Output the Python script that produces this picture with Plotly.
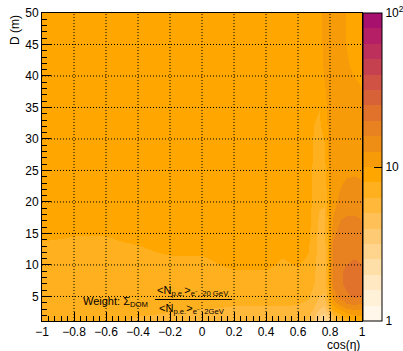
import numpy as np
import plotly.graph_objects as go

# ---------------- data ----------------
cos_eta = [-1.0, -0.8, -0.6, -0.4, -0.2, 0.0, 0.2, 0.4, 0.5, 0.6,
           0.66, 0.7, 0.73, 0.76, 0.79, 0.82, 0.86, 0.9, 0.95, 1.0]
distance_m = [1, 2, 3, 4, 5, 7, 9, 11, 13, 15, 17, 20, 25, 30, 35, 40, 45, 50]

# weight ratio, one list per cos(eta) column, values from D=1 up to D=50
weight_columns = [
    [7.0, 7.1, 7.2, 7.2, 7.2, 7.2, 7.3, 7.5, 7.7, 8.3, 8.8, 9.0, 9.0, 9.0, 9.0, 9.0, 9.0, 9.0],   # -1.0
    [7.0, 7.1, 7.2, 7.2, 7.2, 7.2, 7.3, 7.5, 7.7, 8.0, 8.6, 9.0, 9.0, 9.0, 9.0, 9.0, 9.0, 9.0],   # -0.8
    [6.9, 7.0, 7.2, 7.2, 7.2, 7.2, 7.3, 7.5, 7.7, 8.0, 8.6, 9.0, 9.0, 9.0, 9.0, 9.0, 9.0, 9.0],   # -0.6
    [5.8, 6.4, 6.9, 7.1, 7.2, 7.2, 7.3, 7.6, 7.9, 8.4, 8.8, 9.0, 9.0, 9.0, 9.0, 9.0, 9.0, 9.0],   # -0.4
    [5.6, 6.1, 6.6, 6.9, 7.1, 7.2, 7.4, 7.8, 8.3, 8.7, 8.9, 9.0, 9.0, 9.0, 9.0, 9.0, 9.0, 9.0],   # -0.2
    [5.5, 6.0, 6.3, 6.6, 6.9, 7.2, 7.5, 7.8, 8.3, 8.7, 8.9, 9.0, 9.0, 9.0, 9.0, 9.0, 9.0, 9.0],   # 0.0
    [5.5, 5.9, 6.2, 6.4, 6.8, 7.4, 7.9, 8.4, 8.8, 9.0, 9.0, 9.0, 9.0, 9.0, 9.0, 9.0, 9.0, 9.0],   # 0.2
    [5.5, 5.9, 6.2, 6.4, 6.8, 7.4, 7.9, 8.4, 8.8, 9.0, 9.0, 9.0, 9.0, 9.0, 9.0, 9.0, 9.0, 9.0],   # 0.4
    [5.5, 5.9, 6.2, 6.4, 6.8, 7.3, 7.6, 7.9, 8.5, 8.9, 9.0, 9.0, 9.0, 9.0, 9.0, 9.0, 9.0, 9.0],   # 0.5
    [5.4, 5.8, 6.1, 6.4, 6.8, 7.4, 7.8, 8.2, 8.6, 8.9, 9.0, 9.0, 9.0, 9.0, 9.0, 9.0, 9.0, 9.0],   # 0.6
    [4.8, 5.3, 5.8, 6.1, 6.5, 7.0, 7.4, 7.8, 8.1, 8.4, 8.7, 8.9, 9.0, 9.0, 9.0, 9.0, 9.0, 9.0],   # 0.66
    [3.8, 4.2, 4.8, 5.3, 5.8, 6.3, 6.5, 6.7, 6.8, 6.9, 7.0, 7.2, 7.4, 7.7, 8.2, 9.0, 9.0, 9.0],   # 0.7
    [2.8, 3.3, 4.0, 4.6, 5.0, 5.4, 5.6, 5.7, 5.8, 5.9, 6.1, 6.5, 7.0, 7.5, 8.0, 8.8, 9.2, 9.4],   # 0.73
    [2.3, 2.9, 3.7, 4.4, 4.9, 5.3, 5.5, 5.6, 5.7, 5.8, 6.0, 6.4, 7.2, 8.0, 9.0, 10.2, 10.6, 10.8],  # 0.76
    [2.6, 3.6, 5.0, 6.2, 7.2, 8.0, 8.4, 8.5, 8.5, 8.5, 8.6, 8.9, 9.8, 10.4, 10.8, 11.0, 11.0, 11.0],  # 0.79
    [4.5, 6.0, 8.5, 11.0, 14.0, 17.0, 18.0, 18.0, 17.0, 15.0, 13.0, 11.5, 10.8, 10.8, 11.0, 11.0, 11.0, 11.0],  # 0.82
    [5.5, 7.5, 10.5, 14.0, 17.5, 19.0, 19.5, 19.0, 18.5, 17.5, 16.0, 13.5, 11.5, 11.0, 11.0, 11.0, 10.8, 10.8],  # 0.86
    [6.5, 9.0, 12.0, 16.0, 19.0, 21.0, 20.5, 19.5, 19.0, 18.0, 16.5, 14.5, 12.0, 11.0, 10.6, 10.2, 10.0, 9.9],  # 0.9
    [7.5, 10.0, 13.0, 17.0, 21.0, 22.5, 21.0, 20.0, 19.0, 18.0, 16.5, 14.5, 12.2, 11.0, 10.5, 10.0, 9.5, 9.4],  # 0.95
    [8.0, 10.0, 12.5, 16.0, 20.0, 21.5, 20.5, 19.5, 18.5, 17.5, 16.0, 14.0, 12.0, 10.8, 10.3, 9.8, 9.4, 9.3],  # 1.0
]

band_colors = [
    "#FFF7EA", "#FFF0D8", "#FFE8C2", "#FFDFA8", "#FFD58E",
    "#FFCA74", "#FFC058", "#FFB83A", "#FFB01E", "#FFA600",
    "#F79C08", "#EF8E14", "#E88120", "#E0722C", "#D86238",
    "#CF5244", "#C6414F", "#BD305B", "#B41F65", "#A8106E",
]

x_ticks = [-1, -0.8, -0.6, -0.4, -0.2, 0, 0.2, 0.4, 0.6, 0.8, 1]
y_ticks = [5, 10, 15, 20, 25, 30, 35, 40, 45, 50]
cbar_major = [1, 10, 100]
cbar_major_labels = ["1", "10", "10<sup>2</sup>"]
cbar_minor = [2, 3, 4, 5, 6, 7, 8, 9, 20, 30, 40, 50, 60, 70, 80, 90]

# ---------------- figure ----------------
FONT = "Liberation Sans, Arial, sans-serif"
W, H = 403, 351
L, R, T, B = 42, 41, 13, 30
pw, ph = W - L - R, H - T - B
CB_LEFT, CB_W = 363, 19


def px_x(px):
    return (px - L) / pw


def px_y(py):
    return (H - B - py) / ph


z = np.log10(np.array(weight_columns, dtype=float)).T

nb = len(band_colors)
colorscale = []
for i, c in enumerate(band_colors):
    colorscale.append([i / nb, c])
    colorscale.append([(i + 1) / nb, c])

fig = go.Figure()
fig.add_trace(go.Heatmap(
    x=cos_eta, y=distance_m, z=z,
    zmin=0, zmax=2, zsmooth="best",
    colorscale=colorscale,
    hoverinfo="skip",
    colorbar=dict(
        x=px_x(CB_LEFT), xanchor="left", xref="paper",
        y=0.5, yanchor="middle", yref="paper", len=1.0, lenmode="fraction",
        thickness=CB_W, thicknessmode="pixels",
        xpad=0, ypad=0,
        outlinewidth=1, outlinecolor="black",
        tickmode="array",
        tickvals=[np.log10(v) for v in cbar_major],
        ticktext=cbar_major_labels,
        ticks="inside", ticklen=8, tickwidth=1, tickcolor="black",
        tickfont=dict(family=FONT, size=12, color="black"),
    ),
))

axis_common = dict(
    showline=True, linecolor="black", linewidth=1, mirror=True,
    ticks="inside", tickcolor="black", tickwidth=1,
    showgrid=False, zeroline=False, layer="above traces",
    tickfont=dict(family=FONT, size=12, color="black"),
)

fig.update_xaxes(
    range=[-1, 1], tickmode="array", tickvals=x_ticks,
    ticktext=[("−" if v < 0 else "") + ("%g" % abs(v)) for v in x_ticks],
    ticklen=9,
    minor=dict(ticks="inside", ticklen=5, dtick=0.04, tick0=-1, tickcolor="black", showgrid=False),
    **axis_common,
)
fig.update_yaxes(
    range=[1.1, 50], tickmode="array", tickvals=y_ticks,
    ticklen=9,
    minor=dict(ticks="inside", ticklen=5, dtick=1, tick0=0, tickcolor="black", showgrid=False),
    **axis_common,
)

shapes = []
for xv in x_ticks[1:-1]:
    shapes.append(dict(type="line", xref="x", yref="paper", x0=xv, x1=xv, y0=0, y1=1,
                       line=dict(color="black", width=1, dash="1px,2px"), layer="above"))
for yv in y_ticks[:-1]:
    shapes.append(dict(type="line", xref="paper", yref="y", x0=0, x1=1, y0=yv, y1=yv,
                       line=dict(color="black", width=1, dash="1px,2px"), layer="above"))
# minor ticks of the log colour axis
for v in cbar_minor:
    yp = np.log10(v) / 2.0
    shapes.append(dict(type="line", xref="paper", yref="paper",
                       x0=px_x(CB_LEFT + CB_W - 4.5), x1=px_x(CB_LEFT + CB_W), y0=yp, y1=yp,
                       line=dict(color="black", width=1), layer="above"))
# fraction bar of the weight formula
shapes.append(dict(type="line", xref="paper", yref="paper",
                   x0=px_x(155), x1=px_x(232), y0=px_y(299.5), y1=px_y(299.5),
                   line=dict(color="black", width=1), layer="above"))

annotations = [
    dict(text="D (m)", textangle=-90, xref="paper", yref="paper",
         x=px_x(15), y=1.0, xanchor="center", yanchor="top", showarrow=False,
         font=dict(family=FONT, size=12, color="black")),
    dict(text="cos(η)", xref="paper", yref="paper",
         x=1.0, y=px_y(344.5), xanchor="right", yanchor="middle", showarrow=False,
         font=dict(family=FONT, size=12, color="black")),
    dict(text="Weight: Σ<sub>DOM</sub>", xref="paper", yref="paper",
         x=px_x(81), y=px_y(302), xanchor="left", yanchor="middle", showarrow=False,
         font=dict(family=FONT, size=11, color="black")),
    dict(text="&lt;N<sub>p.e.</sub>&gt;<sub>e⁻, 20 GeV</sub>", xref="paper", yref="paper",
         x=px_x(193), y=px_y(291), xanchor="center", yanchor="middle", showarrow=False,
         font=dict(family=FONT, size=11, color="black")),
    dict(text="&lt;N<sub>p.e.</sub>&gt;<sub>e⁻  2GeV</sub>", xref="paper", yref="paper",
         x=px_x(192), y=px_y(309), xanchor="center", yanchor="middle", showarrow=False,
         font=dict(family=FONT, size=11, color="black")),
]

fig.update_layout(
    width=W, height=H,
    margin=dict(l=L, r=R, t=T, b=B, autoexpand=False),
    paper_bgcolor="white", plot_bgcolor="white",
    showlegend=False,
    shapes=shapes, annotations=annotations,
    font=dict(family=FONT, size=12, color="black"),
)

fig.write_html("out.html")
